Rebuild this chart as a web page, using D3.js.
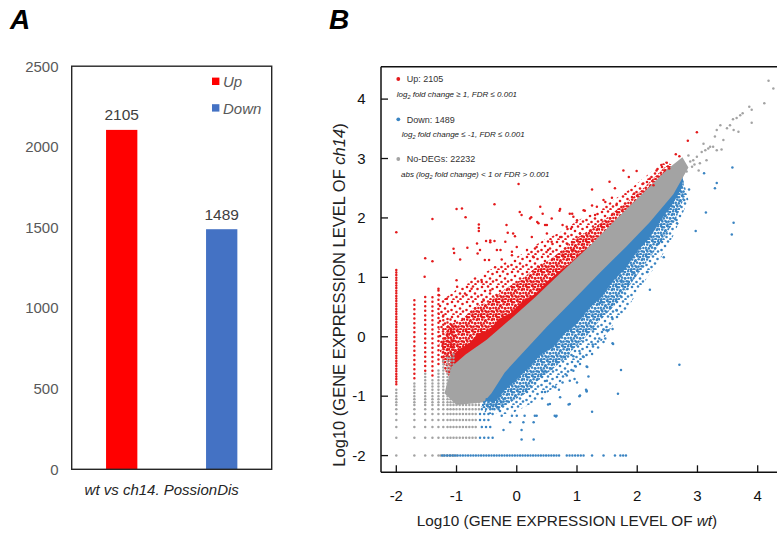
<!DOCTYPE html>
<html><head><meta charset="utf-8">
<script src="https://cdn.jsdelivr.net/npm/d3@7"></script>
<style>body{margin:0;background:#fff;} svg{display:block;font-family:Arial,"Liberation Sans",sans-serif;}</style>
</head><body><svg id="c" width="777" height="535"></svg>
<script>
// ---------- Panel A data ----------
const groups = ["Up", "Down"];
const degCounts = [2105, 1489];
const barColors = ["#ff0000", "#4472c4"];
const countTicks = [0, 500, 1000, 1500, 2000, 2500];
const panelAXLabel = "wt vs ch14. PossionDis";

// ---------- Panel B data ----------
const xTicksB = [-2, -1, 0, 1, 2, 3, 4];
const yTicksB = [-2, -1, 0, 1, 2, 3, 4];
const legendB = [
  {label: "Up: 2105", note: ["log", "2", " fold change \u2265 1, FDR \u2264 0.001"], cls: "up"},
  {label: "Down: 1489", note: ["log", "2", " fold change \u2264 -1, FDR \u2264 0.001"], cls: "down"},
  {label: "No-DEGs: 22232", note: ["abs (log", "2", " fold change) < 1 or FDR > 0.001"], cls: "no"}
];
// quantized low expression levels (log10 of small counts)
const lowLevels = [-2, -1.70, -1.52, -1.40, -1.30, -1.22, -1.15, -1.10, -1.05];
// low-wt columns: [x, grayTop, redFrom, redTo]
const lowCols = [
  [-2.00, -0.85, -0.80, 1.16],
  [-1.70, -0.75, -0.70, 0.68],
  [-1.52, -0.62, -0.57, 0.70],
  [-1.40, -0.68, -0.65, 0.67],
  [-1.30, -0.52, -0.46, 0.81],
  [-1.22, -0.40, -0.34, 0.39],
  [-1.15, -0.35, -0.30, 0.30],
  [-1.10, -0.30, -0.25, 0.35],
  [-1.05, -0.28, -0.22, 0.20]
];
// low-ch14 rows: [y, grayTo, blueFrom, blueTo]
const lowRows = [
  [-2.00, -1.30, -1.24, 0.72],
  [-1.70, -0.64, -0.61, -0.38],
  [-1.52, -0.64, -0.58, -0.42],
  [-1.40, -0.64, -0.61, -0.42],
  [-1.30, -0.64, -0.61, -0.36],
  [-1.22, -0.62, -0.58, -0.30],
  [-1.15, -0.60, -0.56, -0.30],
  [-1.10, -0.58, -0.54, -0.25],
  [-1.05, -0.55, -0.50, -0.20]
];
const blueRowExtra = [[-2.00, 0.83, 1.11], [-2.00, 1.72, 1.85]];
// density outlines
const grayCore = [[-1.2,-0.95],[-1.08,-0.5],[-0.85,-0.3],[-0.5,-0.05],[-0.1,0.3],[0.3,0.66],[0.7,1.05],[1.2,1.52],[1.7,2.03],[2.2,2.52],[2.5,2.82],[2.75,3.02],
  [2.85,2.85],[2.6,2.4],[2.2,1.92],[1.8,1.5],[1.4,1.1],[1.0,0.68],[0.5,0.17],[0.1,-0.27],[-0.2,-0.6],[-0.42,-0.95],[-0.55,-1.1],[-1.0,-1.15]];
const redInner = [[2.6,2.7],[1.5,1.6],[0.5,0.5],[-0.5,-0.2],[-1.0,-0.7]];
const redDenseOuter = [[-1.12,-0.6],[-1.1,-0.35],[-0.95,-0.2],[-0.8,-0.12],[-0.65,0.05],[-0.45,0.12],[-0.3,0.3],[-0.1,0.4],[0.1,0.6],[0.3,0.72],[0.5,0.92],[0.7,1.1],[0.9,1.25],[1.1,1.45],[1.3,1.58],[1.5,1.8],[1.7,1.95],[1.9,2.15],[2.1,2.3],[2.3,2.52],[2.5,2.75]];
const redMidOuter = [[-1.2,-0.55],[-1.25,-0.1],[-1.1,0.2],[-0.9,0.3],[-0.7,0.5],[-0.45,0.6],[-0.2,0.8],[0.05,0.95],[0.3,1.15],[0.55,1.3],[0.8,1.5],[1.05,1.7],[1.3,1.85],[1.55,2.05],[1.8,2.25],[2.05,2.45],[2.3,2.7],[2.5,2.88]];
const redLightOuter = [[-1.25,-0.4],[-1.3,0.5],[-1.05,0.75],[-0.8,0.95],[-0.5,1.1],[-0.2,1.25],[0.1,1.4],[0.4,1.6],[0.7,1.75],[1.0,1.95],[1.3,2.1],[1.6,2.3],[1.9,2.5],[2.2,2.75],[2.45,2.95]];
const blueInner = [[2.75,2.7],[1.5,1.3],[0.5,0.25],[-0.3,-0.7]];
const blueDenseOuter = [[-0.55,-1.08],[-0.35,-1.08],[-0.2,-0.9],[0.0,-0.72],[0.2,-0.52],[0.4,-0.3],[0.6,-0.18],[0.8,0.06],[1.0,0.22],[1.2,0.48],[1.4,0.66],[1.6,0.94],[1.8,1.14],[2.0,1.44],[2.2,1.66],[2.4,1.97],[2.6,2.25],[2.75,2.52]];
const blueMidOuter = [[-0.6,-1.2],[-0.3,-1.22],[-0.1,-1.1],[0.15,-0.95],[0.4,-0.7],[0.65,-0.5],[0.9,-0.25],[1.15,0.0],[1.4,0.3],[1.65,0.55],[1.9,0.9],[2.15,1.25],[2.4,1.6],[2.65,2.0],[2.8,2.4]];
const blueLightOuter = [[-0.55,-1.3],[-0.1,-1.3],[0.2,-1.15],[0.5,-0.95],[0.8,-0.7],[1.1,-0.4],[1.35,-0.15],[1.6,0.2],[1.85,0.5],[2.1,0.9],[2.35,1.25],[2.6,1.7],[2.85,2.3]];
// scattered genes
const redPts = [
[-2.0,1.76],[-1.40,1.98],[-1.0,2.15],[-0.91,2.16],[-0.85,2.01],[-0.37,2.23],[0.03,2.57],[0.05,2.10],[0.08,2.05],[0.34,1.93],
[-0.63,1.89],[-0.63,1.83],[-0.63,1.78],[-1.52,1.32],[-1.40,1.27],[-1.53,1.01],[-1.05,1.48],[-1.04,1.41],[-0.94,1.30],[-0.82,1.50],
[-0.66,1.57],[-0.61,1.46],[-0.65,1.40],[-0.51,1.61],[-0.44,1.59],[-0.37,1.61],[-0.15,1.75],[-0.03,1.69],[-0.19,1.60],[-0.33,1.46],
[-0.46,1.29],[-0.25,1.30],[-0.08,1.37],[0.0,1.51],[0.25,1.68],[0.17,1.46],[0.28,1.34],[0.33,1.51],
[-1.30,0.81],[-1.29,0.70],[-1.16,0.64],[-1.0,0.95],[-0.99,0.84],[-0.86,0.73],[-0.75,0.81],
[0.24,2.01],[0.39,2.19],[0.43,2.07],[0.58,1.99],[0.71,2.12],[0.76,1.88],[0.92,2.07],[0.90,1.82],[0.50,1.88],
[2.99,3.44],[2.84,3.30],[2.70,3.04],[2.64,3.07],[2.49,2.93],[2.40,2.89],[2.53,2.83],[2.45,2.80],[2.32,2.80],
[1.77,2.80],[1.99,2.79],[1.86,2.69],[1.54,2.61],[1.25,2.48],[1.63,2.50],[2.10,2.58],[2.21,2.66],[2.27,2.55],[1.95,2.41],
[0.88,2.07],[0.94,2.02],[1.13,2.12],[0.83,1.85],[1.33,2.19],[1.44,2.30],[1.58,2.34],[1.66,2.24],
[0.72,2.15],[0.22,1.99],[0.36,1.91],[0.47,1.88],[1.0,1.96],[1.11,2.13],[1.25,2.21],[1.30,2.05],[1.47,2.27],
[-0.06,1.74],[-0.17,1.88],[-0.44,1.62],[-0.27,1.46],[-0.08,1.43],[-0.53,1.29],[-0.36,1.17],[-0.58,0.92],[-0.44,0.78],[-0.55,0.61],
[0.50,1.74],[0.58,1.60],[0.72,1.68],[0.83,1.57],[0.52,1.46],[0.77,1.37],[1.05,1.74],[1.22,1.79],[1.11,1.51],[0.94,1.46]
];
const bluePts = [
[3.58,2.85],[3.32,2.59],[3.29,2.50],[3.11,2.75],[2.86,2.48],[2.78,2.30],[2.70,2.29],[3.14,2.09],[3.60,1.92],[3.57,1.72],
[2.97,1.78],[2.63,1.98],[2.66,1.91],[2.49,1.74],[2.36,1.58],[2.44,1.34],[2.17,1.09],[2.21,0.79],[2.00,1.39],[1.95,1.07],
[1.79,1.19],[1.74,0.95],[1.85,0.89],[1.55,0.50],
[1.38,0.57],[1.56,0.49],[1.44,0.12],[1.52,0.11],[1.59,-0.11],[1.44,-0.09],[1.37,-0.03],[1.26,-0.13],[1.28,0.13],[1.73,-0.56],
[2.70,-0.47],[1.68,-0.96],[1.25,-1.26],[1.19,-0.67],[1.16,-0.50],[1.15,-0.89],[1.16,-0.92],[1.04,-1.00],[0.98,-0.50],[0.96,-0.71],
[0.88,-0.74],[1.04,-0.24],[0.94,-0.33],[0.86,-0.28],[0.88,-1.13],[0.76,-0.77],[0.70,-0.89],[0.66,-0.43],[0.55,-1.13],[0.65,-1.34],
[0.50,-0.74],[0.42,-1.04],[0.45,-0.59],[0.58,-0.54],
[1.66,0.44],[1.58,0.33],[1.59,0.13],[1.49,0.11],[1.47,-0.03],[1.60,-0.12],[1.35,-0.18],[1.25,-0.29],[1.11,-0.34],[1.17,-0.51],
[1.05,-0.46],[0.94,-0.57],[0.83,-0.65],[0.80,-0.34],[1.00,-0.77],[1.05,-0.99],[0.64,-0.85],[0.47,-0.93],[0.72,-1.02],
[0.52,-1.14],[0.86,-1.14],[1.16,-0.91],[0.33,-1.33],[0.66,-1.33],[0.11,-1.44],[0.28,-1.44],[-0.11,-1.44],[0.08,-1.57],[-0.22,-1.57],
[1.25,-2],[1.44,-2],[1.63,-2],[0.08,-1.73],[0.28,-1.73],[-0.25,-1.33],[-0.08,-1.33],[0.0,-1.33],[0.13,-1.33],[0.30,-1.33],[0.63,-1.33]
];
const grayPts = [
[4.18,4.31],[4.26,4.18],[4.11,3.93],[3.86,3.87],[3.90,3.82],[3.90,3.60],[3.75,3.76],[3.71,3.73],[3.65,3.68],[3.59,3.66],
[3.54,3.56],[3.49,3.51],[3.60,3.48],[3.68,3.45],[3.38,3.56],[3.32,3.48],[3.29,3.37],[3.43,3.31],[3.26,3.20],[3.32,3.14],
[3.18,3.17],[3.40,3.15],[3.10,3.25],[3.07,3.11],[2.99,3.03],[2.93,2.97],[3.04,2.92],[2.91,2.86],[3.15,2.97],[3.02,2.80],
[3.13,3.14],[3.21,3.20],[2.85,3.05],[2.88,2.95],[2.95,2.90],[2.82,2.78]
];

// ---------- drawing ----------
const svg = d3.select("#c");

// Panel letters
svg.append("text").attr("x", 10).attr("y", 28.5).text("A")
  .attr("font-size", 28).attr("font-weight", "bold").attr("font-style", "italic").attr("fill", "#000");
svg.append("text").attr("x", 329).attr("y", 28.5).text("B")
  .attr("font-size", 28).attr("font-weight", "bold").attr("font-style", "italic").attr("fill", "#000");

// Panel A
const yA = d3.scaleLinear().domain([0, 2500]).range([469.3, 66.2]);
const xA = d3.scaleBand().domain(groups).range([71.7, 271.7]).paddingInner(0.687).paddingOuter(0.3435);
const gA = svg.append("g");
gA.selectAll("rect.bar").data(groups).join("rect").attr("class", "bar")
  .attr("x", d => xA(d)).attr("width", xA.bandwidth())
  .attr("y", (d, i) => yA(degCounts[i])).attr("height", (d, i) => yA(0) - yA(degCounts[i]))
  .attr("fill", (d, i) => barColors[i]);
gA.append("rect").attr("x", 71.7).attr("y", yA(2500)).attr("width", 200).attr("height", yA(0) - yA(2500))
  .attr("fill", "none").attr("stroke", "#262626").attr("stroke-width", 1.4);
gA.selectAll("text.tick").data(countTicks).join("text").attr("class", "tick")
  .attr("x", 58.5).attr("y", d => yA(d) + 5.3).attr("text-anchor", "end")
  .attr("font-size", 15).attr("fill", "#595959").text(d => d);
gA.selectAll("text.val").data(groups).join("text").attr("class", "val")
  .attr("x", d => xA(d) + xA.bandwidth() / 2).attr("y", (d, i) => yA(degCounts[i]) - 9.5)
  .attr("text-anchor", "middle").attr("font-size", 15.5).attr("fill", "#404040")
  .text((d, i) => degCounts[i]);
groups.forEach((g, i) => {
  gA.append("rect").attr("x", 212).attr("y", 77.6 + i * 26.6).attr("width", 7.4).attr("height", 7.4).attr("fill", barColors[i]);
  gA.append("text").attr("x", 223).attr("y", 87.2 + i * 26.6).attr("font-size", 15).attr("font-style", "italic")
    .attr("fill", "#595959").text(g);
});
gA.append("text").attr("x", 161.7).attr("y", 494.5).attr("text-anchor", "middle")
  .attr("font-size", 15).attr("font-style", "italic").attr("fill", "#262626").text(panelAXLabel);

// Panel B
const colUp = "#e41a1c", colDown = "#3a84c2", colNo = "#a3a3a3";
const x = d3.scaleLinear().domain([-2, 4]).range([396.3, 757.7]);
const y = d3.scaleLinear().domain([-2, 4]).range([455.6, 99.1]);
const frame = {l: 381, t: 66.7, r: 782, b: 472.3};
const defs = svg.append("defs");
defs.append("clipPath").attr("id", "clipB").append("rect")
  .attr("x", frame.l).attr("y", frame.t).attr("width", frame.r - frame.l).attr("height", frame.b - frame.t);
// speckle textures (style only)
const speckDense = [[1,1],[4,2.2],[7,0.8],[10,2],[13.2,1.2],[2.2,4.6],[5.6,5.2],[8.6,4.2],[11.8,5],[14.5,4.4],[0.8,7.8],[3.8,8.4],[7,7.6],[10.2,8.2],[13.4,8],[2.4,11.4],[5.4,11],[8.6,11.6],[11.6,11.2],[14.4,12],[1.2,14.4],[4.4,14.2],[7.6,14.6],[10.6,14.4],[13.6,14.8]];
const speckMid = [[2,2],[8,1.5],[12.5,4],[5,6],[10,8.5],[1.5,10],[6.5,12],[13,11.5],[3.5,14.5],[10.5,14.2]];
function speck(id, color, pts, size) {
  const p = defs.append("pattern").attr("id", id).attr("width", size).attr("height", size).attr("patternUnits", "userSpaceOnUse");
  pts.forEach(c => p.append("circle").attr("cx", c[0]).attr("cy", c[1]).attr("r", 1.3).attr("fill", color));
}
speck("rD", colUp, speckDense, 15); speck("rM", colUp, speckMid, 15);
speck("bD", colDown, speckDense, 15); speck("bM", colDown, speckMid, 15);

const gB = svg.append("g").attr("clip-path", "url(#clipB)");
const line = d3.line().x(d => x(d[0])).y(d => y(d[1])).curve(d3.curveLinearClosed);
const lineSoft = d3.line().x(d => x(d[0])).y(d => y(d[1])).curve(d3.curveCardinalClosed.tension(0.3));
gB.append("path").attr("d", lineSoft(redLightOuter.concat(redInner))).attr("fill", "url(#rM)");
gB.append("path").attr("d", lineSoft(redMidOuter.concat(redInner))).attr("fill", "url(#rD)");
gB.append("path").attr("d", line(redDenseOuter.concat(redInner))).attr("fill", colUp);
gB.append("path").attr("d", line(blueLightOuter.concat(blueInner))).attr("fill", "url(#bM)");
gB.append("path").attr("d", line(blueMidOuter.concat(blueInner))).attr("fill", "url(#bD)");
gB.append("path").attr("d", line(blueDenseOuter.concat(blueInner))).attr("fill", colDown);

function dotSeg(g, x1, y1, x2, y2, color, gap) {
  g.append("line").attr("x1", x(x1)).attr("y1", y(y1)).attr("x2", x(x2)).attr("y2", y(y2))
    .attr("stroke", color).attr("stroke-width", 2.5).attr("stroke-linecap", "round")
    .attr("stroke-dasharray", "0 " + gap);
}
// gray quantized grid
lowLevels.forEach(yy => lowLevels.forEach(xx => {
  gB.append("circle").attr("cx", x(xx)).attr("cy", y(yy)).attr("r", 1.25).attr("fill", colNo);
}));
lowCols.forEach(c => dotSeg(gB, c[0], -1.0, c[0], c[1], colNo, 3.2));
lowRows.forEach(r => dotSeg(gB, -1.0, r[0], r[1], r[0], colNo, 3.2));
gB.append("path").attr("d", line(grayCore)).attr("fill", colNo);
grayPts.forEach(p => gB.append("circle").attr("cx", x(p[0])).attr("cy", y(p[1])).attr("r", 1.25).attr("fill", colNo));
// DEG quantized segments
lowCols.forEach(c => dotSeg(gB, c[0], c[2], c[0], c[3], colUp, c[0] === -2 ? 2.6 : 4.6));
lowRows.forEach(r => dotSeg(gB, r[2], r[0], r[3], r[0], colDown, r[0] === -2 ? 2.6 : 4.2));
blueRowExtra.forEach(r => dotSeg(gB, r[1], r[0], r[2], r[0], colDown, 2.8));
redPts.forEach(p => gB.append("circle").attr("cx", x(p[0])).attr("cy", y(p[1])).attr("r", 1.25).attr("fill", colUp));
bluePts.forEach(p => gB.append("circle").attr("cx", x(p[0])).attr("cy", y(p[1])).attr("r", 1.25).attr("fill", colDown));

// frame and ticks
const gF = svg.append("g");
gF.append("line").attr("x1", frame.l).attr("x2", frame.r).attr("y1", frame.t).attr("y2", frame.t).attr("stroke", "#111").attr("stroke-width", 1.5);
gF.append("line").attr("x1", frame.l).attr("x2", frame.l).attr("y1", frame.t).attr("y2", frame.b).attr("stroke", "#111").attr("stroke-width", 1.5);
gF.append("line").attr("x1", frame.l).attr("x2", frame.r).attr("y1", frame.b).attr("y2", frame.b).attr("stroke", "#111").attr("stroke-width", 1.5);
gF.selectAll("line.xt").data(xTicksB).join("line").attr("class", "xt")
  .attr("x1", d => x(d)).attr("x2", d => x(d)).attr("y1", frame.b).attr("y2", frame.b - 7).attr("stroke", "#111").attr("stroke-width", 1.3);
gF.selectAll("line.yt").data(yTicksB).join("line").attr("class", "yt")
  .attr("y1", d => y(d)).attr("y2", d => y(d)).attr("x1", frame.l).attr("x2", frame.l + 7).attr("stroke", "#111").attr("stroke-width", 1.3);
gF.selectAll("text.xl").data(xTicksB).join("text").attr("class", "xl")
  .attr("x", d => x(d)).attr("y", 501).attr("text-anchor", "middle").attr("font-size", 15).attr("fill", "#111").text(d => d);
gF.selectAll("text.yl").data(yTicksB).join("text").attr("class", "yl")
  .attr("x", 365.5).attr("y", d => y(d) + 5.3).attr("text-anchor", "end").attr("font-size", 15).attr("fill", "#111").text(d => d);
const xt = gF.append("text").attr("x", 567).attr("y", 526).attr("text-anchor", "middle").attr("font-size", 15.3).attr("fill", "#222");
xt.append("tspan").text("Log10 (GENE EXPRESSION LEVEL OF ");
xt.append("tspan").attr("font-style", "italic").text("wt");
xt.append("tspan").text(")");
const yt = gF.append("text").attr("transform", "translate(344.5,295) rotate(-90)").attr("text-anchor", "middle").attr("font-size", 16.5).attr("fill", "#222");
yt.append("tspan").text("Log10 (GENE EXPRESSION LEVEL OF ");
yt.append("tspan").attr("font-style", "italic").text("ch14");
yt.append("tspan").text(")");

// legend B
const legCol = {up: colUp, down: colDown, no: colNo};
const legY = [79, 119.3, 159];
const noteX = [396.7, 401.7, 401];
legendB.forEach((L, i) => {
  gF.append("circle").attr("cx", 398.3).attr("cy", legY[i]).attr("r", 1.9).attr("fill", legCol[L.cls]);
  gF.append("text").attr("x", 406.8).attr("y", legY[i] + 3.2).attr("font-size", 9).attr("fill", "#333").text(L.label);
  const t = gF.append("text").attr("x", noteX[i]).attr("y", legY[i] + 17.5).attr("font-size", 8).attr("font-style", "italic").attr("fill", "#222");
  t.append("tspan").text(L.note[0]);
  t.append("tspan").attr("font-size", 5.5).attr("dy", 2).text(L.note[1]);
  t.append("tspan").attr("dy", -2).text(L.note[2]);
});
</script></body></html>
